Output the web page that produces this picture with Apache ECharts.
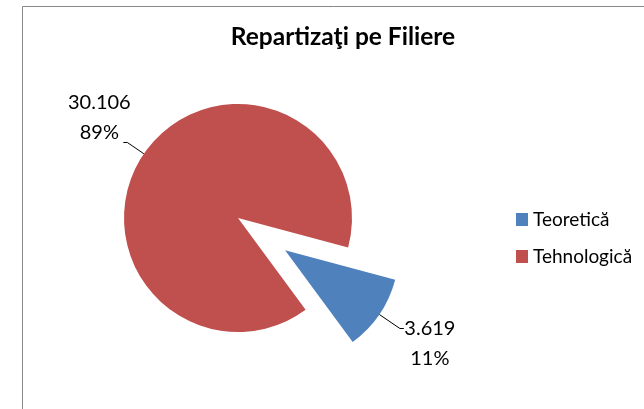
<!DOCTYPE html>
<html>
<head>
<meta charset="utf-8">
<script src="https://cdn.jsdelivr.net/npm/echarts@6/dist/echarts.min.js"></script>
<style>
html,body{margin:0;padding:0;background:#fff;}
#chart{width:644px;height:409px;}
</style>
</head>
<body>
<div id="chart"></div>
<script>
var titleText = 'Repartizaţi pe Filiere';
var categories = ['Teoretică', 'Tehnologică'];
var values = [3619, 30106];
var colors = ['#4F81BD', '#C0504D'];

var FONT = 'Lato';
var total = values.reduce(function (a, b) { return a + b; }, 0);

function fmtNum(v) {
  return String(v).replace(/\B(?=(\d{3})+(?!\d))/g, '.');
}

var labelCfg = [
  { padding: [30, 0, 0, 0], distanceToLabelLine: -2, boxW: 56, length: 25, length2: 4 },
  { padding: [0, 0, 50, 0], distanceToLabelLine: -8, boxW: 64, length: 20, length2: 4 }
];

var data = categories.map(function (c, i) {
  var cfg = labelCfg[i];
  return {
    name: c,
    value: values[i],
    selected: i === 0,
    itemStyle: { color: colors[i] },
    label: {
      padding: cfg.padding,
      distanceToLabelLine: cfg.distanceToLabelLine,
      rich: { a: { width: cfg.boxW, align: 'center', fontSize: 20, lineHeight: 30, fontFamily: FONT, color: '#000' } }
    },
    labelLine: { length: cfg.length, length2: cfg.length2 }
  };
});

var chart = echarts.init(document.getElementById('chart'), null, { renderer: 'canvas' });
chart.setOption({
  animation: false,
  backgroundColor: '#fff',
  graphic: [{
    type: 'rect',
    silent: true,
    shape: { x: 22.5, y: 6.5, width: 700, height: 500 },
    style: { fill: 'none', stroke: '#878787', lineWidth: 1 }
  }],
  title: {
    text: titleText,
    left: 338,
    top: 20,
    textAlign: 'center',
    textStyle: { fontFamily: FONT, fontWeight: 'bold', fontSize: 24.5, color: '#000' }
  },
  legend: {
    orient: 'vertical',
    left: 511,
    top: 205,
    icon: 'rect',
    itemWidth: 12,
    itemHeight: 13,
    itemGap: 18,
    selectedMode: false,
    data: categories,
    textStyle: { fontFamily: FONT, fontSize: 19, color: '#000' }
  },
  series: [{
    type: 'pie',
    center: [238, 218],
    radius: 114,
    startAngle: -15,
    clockwise: true,
    selectedMode: 'single',
    selectedOffset: 57,
    avoidLabelOverlap: false,
    emphasis: { disabled: true },
    label: {
      show: true,
      position: 'outside',
      formatter: function (p) {
        return '{a|' + fmtNum(p.value) + '}\n{a|' + Math.round(p.value / total * 100) + '%}';
      },
      color: '#000'
    },
    labelLine: { show: true, lineStyle: { color: '#000', width: 1 } },
    data: data
  }]
});
</script>
</body>
</html>
